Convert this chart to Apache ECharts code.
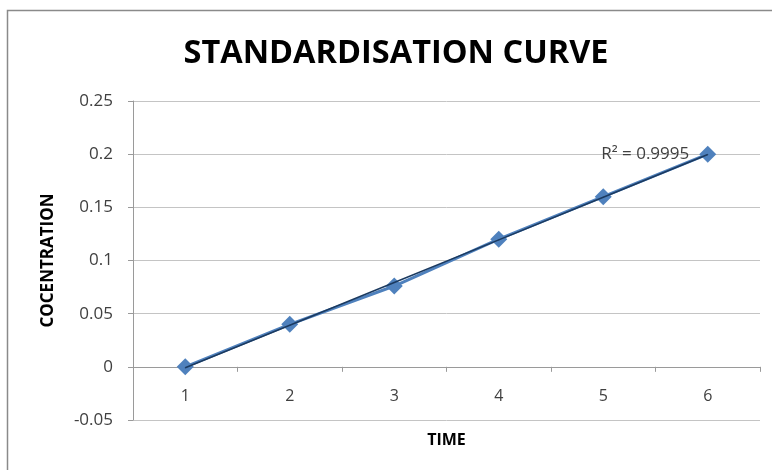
<!DOCTYPE html>
<html>
<head>
<meta charset="utf-8">
<script src="https://cdn.jsdelivr.net/npm/echarts@6/dist/echarts.min.js"></script>
<style>html,body{margin:0;padding:0;background:#fff;}#c{width:772px;height:470px;}</style>
</head>
<body>
<div id="c"></div>
<script>
const titleText = 'STANDARDISATION CURVE';
const xName = 'TIME';
const yName = 'COCENTRATION';
const categories = ['1', '2', '3', '4', '5', '6'];
const concentration = [0, 0.04, 0.076, 0.12, 0.16, 0.2];
const r2Label = 'R² = 0.9995';
const yMin = -0.05, yMax = 0.25, yStep = 0.05;

// linear trendline (least squares) from the data
const n = concentration.length;
const xs = categories.map(Number);
const mx = xs.reduce((a, b) => a + b, 0) / n;
const my = concentration.reduce((a, b) => a + b, 0) / n;
let sxy = 0, sxx = 0;
xs.forEach((x, i) => { sxy += (x - mx) * (concentration[i] - my); sxx += (x - mx) * (x - mx); });
const slope = sxy / sxx, intercept = my - slope * mx;
const trend = xs.map(x => intercept + slope * x);

const chart = echarts.init(document.getElementById('c'), null, {renderer: 'canvas'});
const labelFont = '"Open Sans", sans-serif';
chart.setOption({
  animation: false,
  backgroundColor: '#fff',
  graphic: [{
    type: 'rect', silent: true, z: -10,
    shape: {x: 7.5, y: 10.5, width: 800, height: 500},
    style: {fill: 'none', stroke: '#8a8a8a', lineWidth: 1.5}
  }],
  title: {
    text: titleText, left: 391, top: 32, textAlign: 'center',
    textStyle: {fontFamily: labelFont, fontWeight: 'bold', fontSize: 32.5, color: '#000'}
  },
  grid: {left: 133, right: 12, top: 101, bottom: 50, containLabel: false, outerBoundsMode: 'none'},
  xAxis: {
    type: 'category', data: categories, boundaryGap: true,
    name: xName, nameLocation: 'middle', nameGap: 12, nameMoveOverlap: false,
    nameTextStyle: {fontFamily: labelFont, fontWeight: 'bold', fontSize: 16, color: '#000'},
    axisLine: {onZero: true, lineStyle: {color: '#9a9a9a', width: 1}},
    axisTick: {show: true, length: 5, lineStyle: {color: '#9a9a9a'}},
    axisLabel: {margin: -32, fontFamily: labelFont, fontSize: 16, color: '#404040'},
    splitLine: {show: false}
  },
  yAxis: {
    type: 'value', min: yMin, max: yMax, interval: yStep,
    name: yName, nameLocation: 'middle', nameGap: 76, nameRotate: 90,
    nameTextStyle: {fontFamily: labelFont, fontWeight: 'bold', fontSize: 17, color: '#000'},
    axisLine: {show: true, lineStyle: {color: '#9a9a9a', width: 1}},
    axisTick: {show: true, length: 5, lineStyle: {color: '#9a9a9a'}},
    axisLabel: {margin: 20, fontFamily: labelFont, fontSize: 17, color: '#404040',
      formatter: v => String(Math.round(v * 100) / 100)},
    splitLine: {show: true, lineStyle: {color: '#c4c4c4', width: 1}}
  },
  series: [{
    type: 'line', data: concentration, z: 3,
    symbol: 'diamond', symbolSize: 17,
    lineStyle: {color: '#4F81BD', width: 3},
    itemStyle: {color: '#4F81BD'}
  }, {
    type: 'line', data: trend.map((v, i) => i === n - 1 ? {value: v, label: {show: true}} : v),
    z: 4, symbol: 'circle', symbolSize: 1, showSymbol: true, silent: true,
    itemStyle: {color: '#1B3A60'},
    lineStyle: {color: '#1B3A60', width: 1.6},
    label: {show: false, position: 'left', distance: 18, formatter: () => r2Label,
      fontFamily: labelFont, fontSize: 17, color: '#404040'},
    labelLayout: {hideOverlap: false}
  }]
});
</script>
</body>
</html>
